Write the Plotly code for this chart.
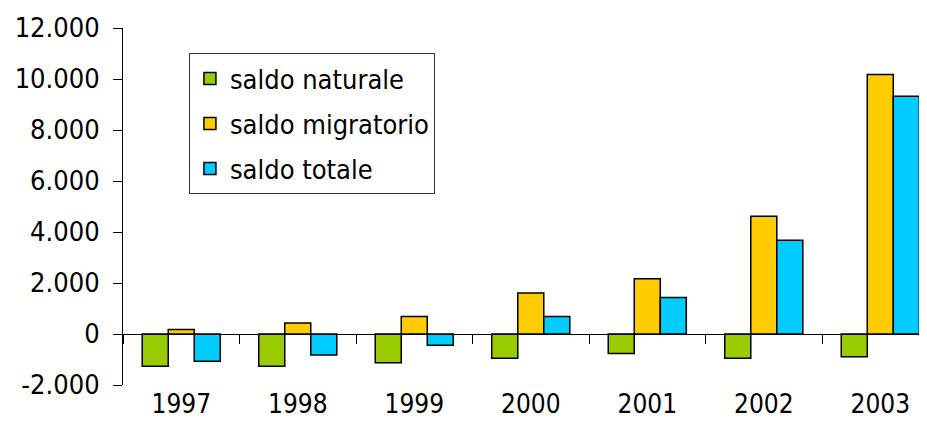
import plotly.graph_objects as go

years = ["1997", "1998", "1999", "2000", "2001", "2002", "2003"]
saldo_naturale = [-1260, -1260, -1130, -950, -760, -950, -890]
saldo_migratorio = [180, 430, 690, 1610, 2170, 4620, 10180]
saldo_totale = [-1070, -820, -440, 690, 1430, 3680, 9320]

series_names = ["saldo naturale", "saldo migratorio", "saldo totale"]
series_colors = ["#99CC00", "#FFCC00", "#00CCFF"]

y_tickvals = [-2000, 0, 2000, 4000, 6000, 8000, 10000, 12000]
y_ticktext = ["-2.000", "0", "2.000", "4.000", "6.000", "8.000", "10.000", "12.000"]
y_min, y_max = -2000, 12000

FONT = "DejaVu Sans Condensed, DejaVu Sans, sans-serif"

fig = go.Figure()
for i, (name, vals, col) in enumerate(zip(series_names, [saldo_naturale, saldo_migratorio, saldo_totale], series_colors)):
    fig.add_trace(go.Bar(
        x=years, y=vals, name=name, legendgroup=f"g{i}",
        marker=dict(color=col, line=dict(color="#000000", width=1.5)),
    ))

fig.update_layout(
    width=919, height=413,
    margin=dict(l=115, r=0, t=20, b=36, autoexpand=False),
    paper_bgcolor="white", plot_bgcolor="white",
    font=dict(family=FONT, size=27, color="#000000"),
    barmode="group", bargap=0.33, bargroupgap=0,
    legend=dict(
        x=0.082, y=0.929, xanchor="left", yanchor="top",
        bgcolor="white", bordercolor="#333333", borderwidth=1,
        traceorder="grouped", tracegroupgap=7,
        font=dict(family=FONT, size=27),
    ),
    xaxis=dict(
        type="category", range=[-0.5, 6.401],
        anchor="free", position=-y_min / (y_max - y_min),
        showline=True, linecolor="#000000", linewidth=1,
        ticks="outside", tickson="boundaries", ticklen=9, tickcolor="#000000",
        ticklabelstandoff=47, showgrid=False, zeroline=False, automargin=False,
        tickfont=dict(family=FONT, size=26),
    ),
    yaxis=dict(
        range=[y_min, y_max], tickvals=y_tickvals, ticktext=y_ticktext,
        showline=True, linecolor="#000000", linewidth=1,
        ticks="outside", ticklen=9, tickcolor="#000000",
        ticklabelstandoff=8, showgrid=False, zeroline=False, automargin=False,
        tickfont=dict(family=FONT, size=27),
    ),
)

fig.write_html("out.html")
